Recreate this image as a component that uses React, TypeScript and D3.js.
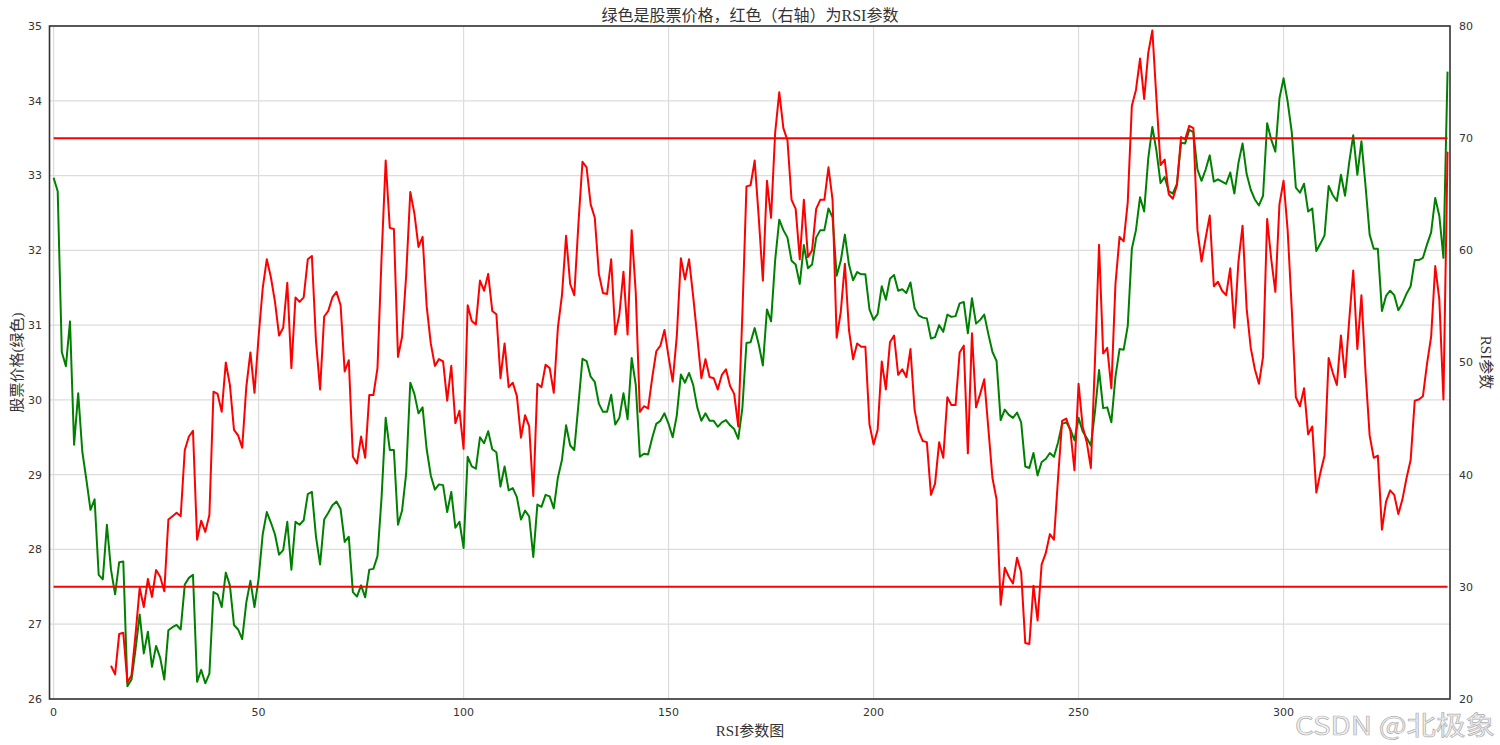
import React from "react";
import * as d3 from "d3";

const price: number[] = [
  32.97, 32.79, 30.64, 30.45, 31.05, 29.4, 30.09, 29.31, 28.93, 28.53,
  28.67, 27.66, 27.6, 28.33, 27.73, 27.4, 27.83, 27.84, 26.17, 26.26,
  26.67, 27.13, 26.61, 26.9, 26.43, 26.71, 26.55, 26.26, 26.92, 26.96,
  26.99, 26.93, 27.53, 27.62, 27.66, 26.23, 26.39, 26.21, 26.34, 27.43,
  27.4, 27.23, 27.69, 27.52, 26.99, 26.93, 26.8, 27.29, 27.58, 27.23,
  27.61, 28.2, 28.5, 28.36, 28.2, 27.93, 27.99, 28.37, 27.73, 28.37,
  28.33, 28.39, 28.74, 28.77, 28.17, 27.8, 28.4, 28.49, 28.59, 28.64,
  28.54, 28.1, 28.17, 27.43, 27.37, 27.52, 27.36, 27.73, 27.74, 27.91,
  28.7, 29.76, 29.33, 29.33, 28.33, 28.52, 29.02, 30.23, 30.08, 29.82,
  29.9, 29.34, 28.99, 28.8, 28.87, 28.86, 28.5, 28.77, 28.29, 28.37,
  28.02, 29.24, 29.11, 29.08, 29.5, 29.42, 29.58, 29.34, 29.3, 28.84,
  29.11, 28.79, 28.82, 28.7, 28.4, 28.52, 28.44, 27.9, 28.6, 28.57,
  28.73, 28.71, 28.55, 28.96, 29.2, 29.66, 29.39, 29.33, 29.93, 30.55,
  30.52, 30.31, 30.24, 29.95, 29.84, 29.84, 30.07, 29.67, 29.76, 30.09,
  29.74, 30.56, 30.2, 29.24, 29.28, 29.27, 29.49, 29.68, 29.72, 29.82,
  29.68, 29.5, 29.79, 30.34, 30.23, 30.36, 30.2, 29.9, 29.72, 29.82,
  29.72, 29.72, 29.64, 29.7, 29.73, 29.66, 29.61, 29.48, 29.89, 30.76,
  30.77, 30.96, 30.74, 30.46, 31.21, 31.05, 31.87, 32.41, 32.27, 32.17,
  31.86, 31.81, 31.55, 32.07, 31.76, 31.81, 32.17, 32.27, 32.27, 32.56,
  32.44, 31.66, 31.86, 32.21, 31.81, 31.6, 31.71, 31.68, 31.68, 31.21,
  31.07, 31.15, 31.52, 31.34, 31.62, 31.67, 31.46, 31.48, 31.43, 31.57,
  31.23, 31.13, 31.1, 31.09, 30.82, 30.84, 31.0, 30.91, 31.14, 31.11,
  31.12, 31.29, 31.31, 30.89, 31.36, 31.02, 31.07, 31.14, 30.88, 30.64,
  30.52, 29.73, 29.87, 29.8, 29.76, 29.83, 29.7, 29.11, 29.09, 29.29,
  28.99, 29.17, 29.21, 29.29, 29.24, 29.43, 29.68, 29.7, 29.61, 29.46,
  29.76, 29.58, 29.49, 29.39, 29.84, 30.4, 29.89, 29.9, 29.7, 30.31,
  30.68, 30.67, 30.99, 32.02, 32.27, 32.71, 32.52, 33.23, 33.65, 33.33,
  32.9, 32.98, 32.79, 32.76, 32.89, 33.44, 33.43, 33.61, 33.58, 33.08,
  32.93, 33.08, 33.27, 32.92, 32.95, 32.92, 32.89, 33.04, 32.76, 33.17,
  33.43, 33.02, 32.81, 32.68, 32.6, 32.73, 33.7, 33.48, 33.32, 34.03,
  34.3, 33.99, 33.58, 32.84, 32.77, 32.89, 32.52, 32.56, 31.99, 32.09,
  32.2, 32.86, 32.74, 32.66, 33.01, 32.73, 33.17, 33.54, 33.01, 33.46,
  32.86, 32.21, 32.02, 32.02, 31.19, 31.39, 31.46, 31.4, 31.2, 31.29,
  31.42, 31.52, 31.87, 31.87, 31.9, 32.08, 32.24, 32.7, 32.46, 31.9,
  34.39,
];

const rsiStart = 14;
const rsi: number[] = [
  22.96, 22.2, 25.8, 25.9, 21.5, 22.1, 25.8, 29.9, 28.2, 30.7,
  29.1, 31.5, 30.9, 29.6, 36.0, 36.3, 36.6, 36.3, 42.2, 43.4,
  43.9, 34.2, 35.9, 34.9, 36.4, 47.4, 47.2, 45.6, 50.0, 48.0,
  44.0, 43.5, 42.4, 47.8, 50.9, 47.3, 52.3, 56.6, 59.2, 57.6,
  55.4, 52.4, 53.1, 57.1, 49.5, 55.8, 55.4, 55.8, 59.2, 59.5,
  51.9, 47.6, 54.1, 54.6, 55.8, 56.3, 55.1, 49.2, 50.2, 41.6,
  41.0, 43.4, 41.5, 47.1, 47.1, 49.5, 59.4, 68.0, 62.0, 61.9,
  50.5, 52.3, 57.8, 65.2, 63.3, 60.3, 61.2, 55.0, 51.7, 49.7,
  50.3, 50.1, 46.6, 49.7, 44.6, 45.7, 42.3, 55.1, 53.7, 53.4,
  57.3, 56.4, 57.9, 54.6, 54.3, 48.6, 51.7, 47.8, 48.2, 47.0,
  43.3, 45.3, 44.3, 38.1, 48.1, 47.8, 49.8, 49.5, 47.3, 53.1,
  56.0, 61.3, 57.0, 56.0, 62.3, 67.9, 67.4, 64.1, 62.9, 57.9,
  56.2, 56.1, 59.2, 52.5, 54.3, 58.1, 52.5, 61.8, 56.2, 45.6,
  46.1, 45.9, 48.6, 51.0, 51.5, 52.9, 50.5, 48.3, 52.3, 59.3,
  57.4, 59.2, 55.9, 52.3, 48.6, 50.3, 48.7, 48.6, 47.6, 48.9,
  49.4, 47.9, 47.2, 44.3, 54.3, 65.7, 65.8, 68.0, 62.9, 57.3,
  66.2, 62.9, 70.5, 74.1, 70.9, 69.8, 64.5, 63.7, 59.2, 64.5,
  59.4, 60.0, 63.7, 64.5, 64.5, 67.4, 64.5, 52.2, 54.5, 58.8,
  52.9, 50.3, 51.7, 51.4, 51.4, 44.5, 42.7, 44.0, 50.1, 47.6,
  51.8, 52.4, 48.9, 49.4, 48.7, 51.2, 45.8, 43.9, 43.0, 42.9,
  38.2, 39.2, 42.9, 41.5, 46.9, 46.2, 46.2, 50.9, 51.5, 41.9,
  52.6, 46.0, 47.2, 48.5, 44.1, 39.7, 37.8, 28.4, 31.7, 30.9,
  30.3, 32.6, 31.3, 25.0, 24.9, 30.1, 27.0, 32.0, 33.0, 34.7,
  34.2, 39.7, 44.8, 45.0, 43.9, 40.4, 48.1, 44.3, 42.9, 40.6,
  50.1, 60.5, 50.8, 51.3, 47.7, 57.0, 61.2, 60.8, 64.3, 72.9,
  74.3, 77.1, 73.5, 77.6, 79.6, 73.5, 67.6, 68.1, 65.0, 64.6,
  65.8, 70.1, 69.9, 71.1, 70.9, 61.8, 59.0, 61.1, 63.1, 56.8,
  57.2, 56.4, 56.0, 58.4, 53.1, 59.0, 62.2, 54.8, 51.3, 49.4,
  48.1, 50.5, 62.8, 59.2, 56.3, 64.1, 66.2, 61.8, 54.8, 46.9,
  46.1, 47.7, 43.6, 44.3, 38.4, 40.2, 41.7, 50.4, 49.1, 48.0,
  52.4, 48.7, 53.7, 58.2, 51.2, 56.0, 49.1, 43.5, 41.5, 41.7,
  35.1, 37.6, 38.6, 38.2, 36.5, 37.8, 39.7, 41.3, 46.6, 46.7,
  47.0, 49.9, 52.3, 58.6, 55.6, 46.7, 68.8,
];

const rsiLevels: number[] = [70, 30];
const xTicks: number[] = [0, 50, 100, 150, 200, 250, 300];
const yLeftTicks: number[] = [26, 27, 28, 29, 30, 31, 32, 33, 34, 35];
const yRightTicks: number[] = [20, 30, 40, 50, 60, 70, 80];

const titleText = "绿色是股票价格，红色（右轴）为RSI参数";
const xLabel = "RSI参数图";
const yLeftLabel = "股票价格(绿色)";
const yRightLabel = "RSI参数";
const watermark = "CSDN @北极象";

export default function App() {
  const W = 1500, H = 745;
  const left = 49.5, right = 1450, top = 26, bottom = 699;
  const x = d3.scaleLinear().domain([-1, 340.6]).range([left, right]);
  const yL = d3.scaleLinear().domain([26, 35]).range([bottom, top]);
  const yR = d3.scaleLinear().domain([20, 80]).range([bottom, top]);

  const priceLine = d3
    .line<number>()
    .x((_, i) => x(i))
    .y((d) => yL(d))(price) as string;
  const rsiLine = d3
    .line<number>()
    .x((_, i) => x(i + rsiStart))
    .y((d) => yR(d))(rsi) as string;

  const tickFont = "'DejaVu Sans', sans-serif";
  const cjkFont = "'Liberation Serif', 'Noto Sans CJK SC', serif";
  const tickColor = "#333";

  return (
    <svg
      width={W}
      height={H}
      style={{ position: "absolute", left: 0, top: 0, background: "#fff" }}
    >
      <rect x={0} y={0} width={W} height={H} fill="#fff" />
      <defs>
        <clipPath id="plotclip">
          <rect x={left} y={top} width={right - left} height={bottom - top} />
        </clipPath>
      </defs>
      {xTicks.map((t) => (
        <line
          key={"gx" + t}
          x1={x(t)}
          x2={x(t)}
          y1={top}
          y2={bottom}
          stroke="#dcdcdc"
          strokeWidth={1.2}
        />
      ))}
      {yLeftTicks.map((t) => (
        <line
          key={"gy" + t}
          x1={left}
          x2={right}
          y1={yL(t)}
          y2={yL(t)}
          stroke="#dcdcdc"
          strokeWidth={1.2}
        />
      ))}
      <g clipPath="url(#plotclip)">
        <path d={priceLine} fill="none" stroke="#008000" strokeWidth={2} strokeLinejoin="round" />
        <path d={rsiLine} fill="none" stroke="#ff0000" strokeWidth={2} strokeLinejoin="round" />
        {rsiLevels.map((lv) => (
          <line
            key={"lv" + lv}
            x1={x(0)}
            x2={x(340)}
            y1={yR(lv)}
            y2={yR(lv)}
            stroke="#ff0000"
            strokeWidth={2}
          />
        ))}
      </g>
      <rect
        x={left}
        y={top}
        width={right - left}
        height={bottom - top}
        fill="none"
        stroke="#333"
        strokeWidth={1.6}
      />
      {yLeftTicks.map((t) => (
        <text
          key={"tl" + t}
          x={42}
          y={yL(t)}
          dy="0.35em"
          textAnchor="end"
          fontFamily={tickFont}
          fontSize={11}
          fill={tickColor}
        >
          {t}
        </text>
      ))}
      {yRightTicks.map((t) => (
        <text
          key={"tr" + t}
          x={1459}
          y={yR(t)}
          dy="0.35em"
          textAnchor="start"
          fontFamily={tickFont}
          fontSize={11}
          fill={tickColor}
        >
          {t}
        </text>
      ))}
      {xTicks.map((t) => (
        <text
          key={"tb" + t}
          x={x(t)}
          y={712}
          dy="0.35em"
          textAnchor="middle"
          fontFamily={tickFont}
          fontSize={11}
          fill={tickColor}
        >
          {t}
        </text>
      ))}
      <text
        x={750}
        y={21}
        textAnchor="middle"
        fontFamily={cjkFont}
        fontSize={16}
        fill="#333"
      >
        {titleText}
      </text>
      <text
        x={750}
        y={736}
        textAnchor="middle"
        fontFamily={cjkFont}
        fontSize={15}
        fill="#333"
      >
        {xLabel}
      </text>
      <text
        transform={`translate(22,${(top + bottom) / 2}) rotate(-90)`}
        textAnchor="middle"
        fontFamily={cjkFont}
        fontSize={15}
        fill="#333"
      >
        {yLeftLabel}
      </text>
      <text
        transform={`translate(1481,${(top + bottom) / 2}) rotate(90)`}
        textAnchor="middle"
        fontFamily={cjkFont}
        fontSize={15}
        fill="#333"
      >
        {yRightLabel}
      </text>
      <text
        x={1295}
        y={735}
        fontFamily="'Noto Sans CJK SC', sans-serif"
        fontSize={26}
        textLength={200}
        lengthAdjust="spacingAndGlyphs"
        fill="#f2f2f2"
        stroke="#b0b0b0"
        strokeWidth={0.7}
      >
        {watermark}
      </text>
    </svg>
  );
}
